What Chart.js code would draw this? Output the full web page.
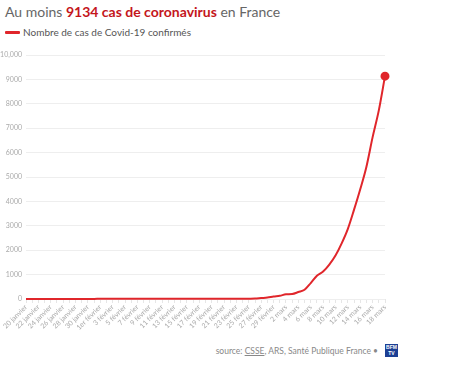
<!DOCTYPE html>
<html><head><meta charset="utf-8">
<script src="https://cdn.jsdelivr.net/npm/chart.js@4/dist/chart.umd.min.js"></script>
<style>
html,body{margin:0;padding:0;background:#fff;width:466px;height:369px;overflow:hidden;font-family:Lato,"Open Sans",sans-serif;}
#title{position:absolute;left:5px;top:3px;font-size:14px;color:#666;white-space:nowrap;}
#title b{color:#c4161c;font-weight:700;}
#legend{position:absolute;left:5px;top:26px;font-size:10px;color:#555;white-space:nowrap;display:flex;align-items:center;}
#legend span.sw{display:inline-block;width:15px;height:3px;background:#e0262b;margin-right:3px;border-radius:1px;}
#wrap{position:absolute;left:0;top:45px;width:466px;height:294px;}
#src{position:absolute;right:88px;top:346px;font-size:8.5px;color:#888;white-space:nowrap;}
#src u{text-decoration:underline;}
#logo{position:absolute;left:385px;top:344px;width:13px;height:13px;background:#1c3f94;color:#fff;font-size:5px;line-height:6px;text-align:center;font-weight:700;font-family:Arial,sans-serif;}
</style></head><body>
<div id="title">Au moins <b>9134 cas de coronavirus</b> en France</div>
<div id="legend"><span class="sw"></span>Nombre de cas de Covid-19 confirmés</div>
<div id="wrap"><canvas id="c" width="466" height="294"></canvas></div>
<div id="src">source: <u>CSSE</u>, ARS, Santé Publique France •</div>
<div id="logo">BFM<br>TV</div>
<script>
const categories = [
"20 janvier","21 janvier","22 janvier","23 janvier","24 janvier","25 janvier","26 janvier","27 janvier","28 janvier","29 janvier","30 janvier","31 janvier",
"1er février","2 février","3 février","4 février","5 février","6 février","7 février","8 février","9 février","10 février",
"11 février","12 février","13 février","14 février","15 février","16 février","17 février","18 février","19 février","20 février",
"21 février","22 février","23 février","24 février","25 février","26 février","27 février","28 février","29 février",
"1 mars","2 mars","3 mars","4 mars","5 mars","6 mars","7 mars","8 mars","9 mars","10 mars",
"11 mars","12 mars","13 mars","14 mars","15 mars","16 mars","17 mars","18 mars"];
const cases = [
0,0,0,0,3,3,3,3,4,5,5,5,
6,6,6,6,6,6,6,11,11,11,
11,11,11,11,12,12,12,12,12,12,
12,12,12,12,14,18,38,57,100,
130,191,204,285,377,653,949,1126,1412,1784,
2281,2876,3661,4499,5423,6633,7730,9134];
const yTickValues = [0,1000,2000,3000,4000,5000,6000,7000,8000,9000,10000];
const yTickLabels = ["0","1000","2000","3000","4000","5000","6000","7000","8000","9000","10,000"];

const last = cases.length - 1;
new Chart(document.getElementById('c'), {
  type: 'line',
  data: { labels: categories, datasets: [{
    label: 'Nombre de cas de Covid-19 confirmés',
    data: cases,
    borderColor: '#e0262b',
    backgroundColor: '#e0262b',
    borderWidth: 2,
    cubicInterpolationMode: 'monotone',
    pointRadius: ctx => ctx.dataIndex === last ? 3.5 : 0,
    pointHoverRadius: 0,
    clip: false
  }]},
  options: {
    responsive: false,
    animation: false,
    events: [],
    layout: { padding: { top: 10, right: 81, left: 0, bottom: 0 } },
    plugins: { legend: { display: false }, tooltip: { enabled: false } },
    scales: {
      x: {
        offset: false,
        grid: { drawOnChartArea: false, color: '#e6e6e6', tickLength: 4 },
        border: { display: false },
        ticks: {
          autoSkip: false, maxRotation: 45, minRotation: 45,
          color: '#aaa', font: { family: 'Lato', size: 7 }, padding: 0,
          callback: (v, i) => i % 2 === 0 ? categories[i] : ''
        },
        afterFit: s => { s.height = 40; }
      },
      y: {
        min: 0, max: 10000,
        afterBuildTicks: s => { s.ticks = yTickValues.map(v => ({ value: v })); },
        grid: { color: '#eeeeee', drawTicks: false },
        border: { display: false },
        ticks: {
          color: '#aaa', font: { family: 'Lato', size: 7 }, padding: 4,
          callback: (v) => yTickLabels[yTickValues.indexOf(v)]
        },
        afterFit: s => { s.width = 26; }
      }
    }
  }
});
</script>
</body></html>
